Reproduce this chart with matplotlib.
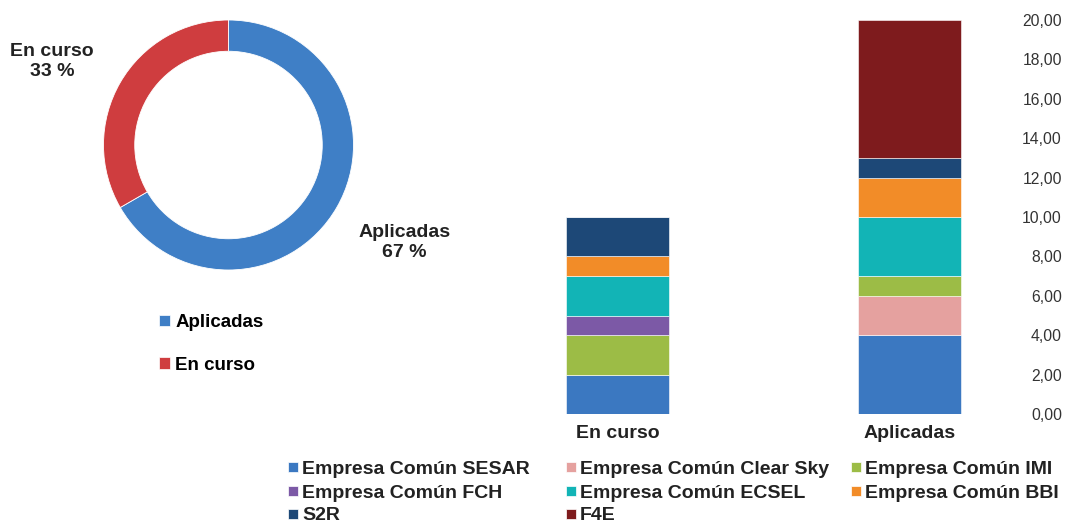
import numpy as np
import matplotlib.pyplot as plt
from matplotlib.patches import Patch, Rectangle
from matplotlib.ticker import FuncFormatter

plt.rcParams['font.family'] = ['Liberation Sans', 'DejaVu Sans']

# stacked bars: number of projects per joint undertaking
grupos = ['En curso', 'Aplicadas']
empresas = ['Empresa Común SESAR', 'Empresa Común Clear Sky', 'Empresa Común IMI',
            'Empresa Común FCH', 'Empresa Común ECSEL', 'Empresa Común BBI',
            'S2R', 'F4E']
en_curso = [2, 0, 2, 1, 2, 1, 2, 0]
aplicadas = [4, 2, 1, 0, 3, 2, 1, 7]
colores = ['#3b78c1', '#e5a19f', '#9cbc46', '#7c59a6', '#12b4b6', '#f28c28',
           '#1d4877', '#7e1b1d']

# ring chart: share of each group
anillo_labels = ['Aplicadas', 'En curso']
anillo_colores = ['#3f7fc6', '#cf3d3f']

W, H = 1068, 524
fig = plt.figure(figsize=(W / 100, H / 100), dpi=100)

# ---- ring ----
cx, cy, r = 228.5, 145, 125
ax_pie = fig.add_axes([(cx - r) / W, (H - cy - r) / H, 2 * r / W, 2 * r / H])
totales = [sum(aplicadas), sum(en_curso)]
ax_pie.pie(totales, colors=anillo_colores, startangle=90, counterclock=False,
           radius=1, wedgeprops=dict(width=0.25, edgecolor='white', linewidth=0.6))
ax_pie.set_xlim(-1, 1)
ax_pie.set_ylim(-1, 1)
ax_pie.set_aspect('equal')
ax_pie.axis('off')

pct = [round(100 * t / sum(totales)) for t in totales]
ax_pie.text(1.41, -0.78, f'{anillo_labels[0]}\n{pct[0]} %', ha='center', va='center',
            fontsize=14, fontweight='bold', color='#222222', linespacing=1.2)
ax_pie.text(-1.41, 0.667, f'{anillo_labels[1]}\n{pct[1]} %', ha='center', va='center',
            fontsize=14, fontweight='bold', color='#222222', linespacing=1.2)

pie_handles = [Patch(facecolor=c, edgecolor='#ffffff', linewidth=0.5) for c in anillo_colores]
fig.legend(pie_handles, anillo_labels, loc='upper left',
           bbox_to_anchor=(150 / W, 1 - 305 / H), frameon=False,
           prop=dict(weight='bold', size=13.5),
           handlelength=0.55, handleheight=0.55, handletextpad=0.3,
           labelspacing=1.35, borderpad=0)

# ---- stacked bars ----
ax = fig.add_axes([470 / W, (H - 414) / H, 530 / W, 394 / H])
x = np.arange(len(grupos))
base = np.zeros(len(grupos))
for i, nombre in enumerate(empresas):
    vals = np.array([en_curso[i], aplicadas[i]], dtype=float)
    ax.bar(x, vals, width=0.353, bottom=base, color=colores[i],
           edgecolor='#ffffff', linewidth=0.4, label=nombre)
    base += vals

ax.set_xlim(-0.505, 1.31)
ax.set_ylim(0, 20)
ax.set_xticks(x)
ax.set_xticklabels(grupos, fontsize=14, fontweight='bold', color='#222222')
ax.tick_params(axis='x', length=0, pad=8)
ax.yaxis.tick_right()
ax.set_yticks(np.arange(0, 21, 2))
ax.yaxis.set_major_formatter(FuncFormatter(lambda v, p: f'{v:.2f}'.replace('.', ',')))
ax.tick_params(axis='y', length=0, pad=44.6, labelsize=11.3, labelcolor='#333333')
for lab in ax.get_yticklabels():
    lab.set_ha('right')
for s in ax.spines.values():
    s.set_visible(False)

# legend below the bars, three columns, filled row by row
col_x = [288, 566, 851]
fila_y = [469, 493, 516]
for k, nombre in enumerate(empresas):
    px = col_x[k % 3]
    py = fila_y[k // 3]
    fig.add_artist(Rectangle((px / W, 1 - (py + 3) / H), 10 / W, 10 / H,
                             transform=fig.transFigure, facecolor=colores[k],
                             edgecolor='#ffffff', linewidth=0.5))
    fig.text((px + 14) / W, 1 - py / H, nombre, ha='left', va='center',
             fontsize=14, fontweight='bold', color='#222222')

fig.savefig('out.png', dpi=100, facecolor='white')
